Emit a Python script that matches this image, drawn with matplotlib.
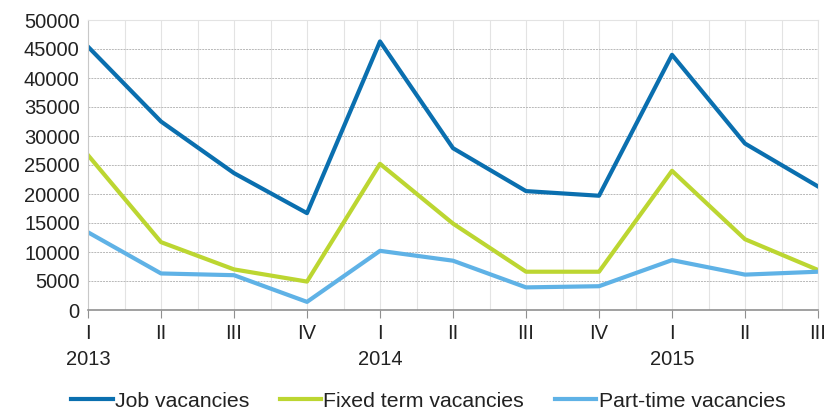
import matplotlib
matplotlib.use("Agg")
import matplotlib.pyplot as plt
import matplotlib.transforms as mtransforms
import numpy as np
from matplotlib.ticker import MultipleLocator

quarters = ["I", "II", "III", "IV", "I", "II", "III", "IV", "I", "II", "III"]
years = ["2013", "2014", "2015"]
year_pos = [0, 4, 8]

job_vacancies = [45400, 32500, 23600, 16700, 46300, 27900, 20500, 19700, 44000, 28700, 21300]
fixed_term = [26700, 11700, 7000, 4900, 25200, 14900, 6600, 6600, 24000, 12200, 6900]
part_time = [13400, 6300, 6000, 1400, 10200, 8500, 3900, 4100, 8600, 6100, 6600]

series = [
    ("Job vacancies", job_vacancies, "#0a6faf"),
    ("Fixed term vacancies", fixed_term, "#bcd631"),
    ("Part-time vacancies", part_time, "#5fb2e6"),
]

plt.rcParams["font.family"] = ["Liberation Sans Narrow", "Liberation Sans", "DejaVu Sans"]

fig = plt.figure(figsize=(8.26, 4.16), dpi=100)
ax = fig.add_axes([88 / 826, 106 / 416, 730 / 826, 290 / 416])

x = np.arange(len(quarters))
for name, vals, color in series:
    ax.plot(x, vals, color=color, linewidth=3, label=name, solid_joinstyle="round")

ax.set_xlim(0, len(quarters) - 1)
ax.set_ylim(0, 50000)
ax.yaxis.set_major_locator(MultipleLocator(5000))
ax.set_xticks(x)
ax.set_xticklabels(quarters)
ax.xaxis.set_minor_locator(MultipleLocator(0.5))

ax.grid(axis="y", which="major", color="#b8b8b8", linestyle=(0, (2, 1)), linewidth=0.7)
ax.grid(axis="x", which="both", color="#e3e3e3", linestyle="-", linewidth=0.8)
ax.set_axisbelow(True)

for side in ["top", "right"]:
    ax.spines[side].set_color("#e3e3e3")
ax.spines["left"].set_color("#c8c8c8")
ax.spines["bottom"].set_color("#909090")
ax.spines["bottom"].set_linewidth(1.2)

ax.tick_params(axis="y", length=0, labelsize=14.5, pad=6, labelcolor="#222222")
ax.tick_params(axis="x", which="major", length=6, color="#909090", labelsize=14.5,
               pad=4, labelcolor="#222222")
ax.tick_params(axis="x", which="minor", length=0)

trans = mtransforms.blended_transform_factory(ax.transData, ax.transAxes)
for pos, yr in zip(year_pos, years):
    ax.text(pos, -0.17, yr, transform=trans, ha="center", va="center",
            fontsize=14.5, color="#222222")

ax.legend(loc="center", bbox_to_anchor=(0.466, -0.314), ncol=3, frameon=False,
          fontsize=15.3, handlelength=1.95, handletextpad=0.1, columnspacing=1.45,
          labelcolor="#222222")

fig.savefig("out.png", dpi=100)
plt.close(fig)
